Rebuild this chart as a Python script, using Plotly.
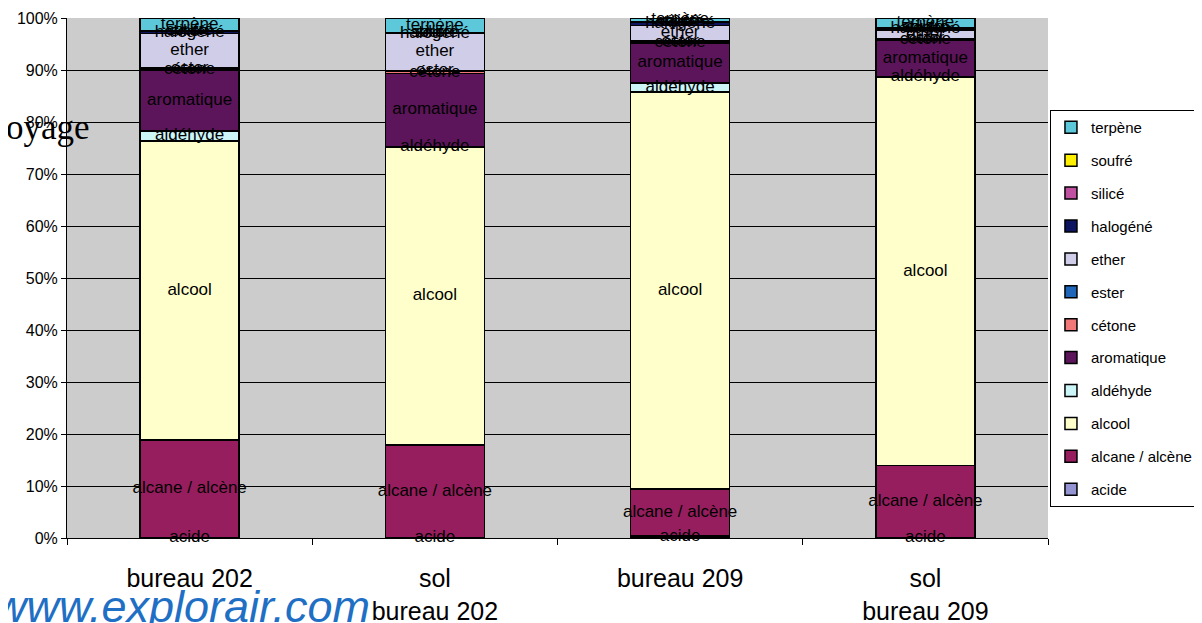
import plotly.graph_objects as go

categories = ["bureau 202", "sol<br>bureau 202", "bureau 209", "sol<br>bureau 209"]

series_names = ["acide", "alcane / alcène", "alcool", "aldéhyde", "aromatique", "cétone",
                "ester", "ether", "halogéné", "silicé", "soufré", "terpène"]

acide = [0.05, 0.05, 0.4, 0.05]
alcane = [18.8, 17.9, 9.0, 14.0]
alcool = [57.5, 57.7, 75.9, 75.0]
aldehyde = [1.9, 0.1, 1.8, 0.1]
aromatique = [11.7, 14.1, 7.6, 7.1]
cetone = [0.1, 0.4, 0.3, 0.2]
ester = [0.3, 0.1, 0.1, 0.1]
ether = [6.65, 7.2, 3.0, 1.7]
halogene = [0.4, 0.1, 0.6, 0.3]
silice = [0.05, 0.05, 0.05, 0.05]
soufre = [0.05, 0.05, 0.05, 0.05]
terpene = [2.5, 2.8, 0.7, 1.9]

values = [acide, alcane, alcool, aldehyde, aromatique, cetone, ester, ether,
          halogene, silice, soufre, terpene]

colors = ["#9494D2", "#961E5E", "#FFFFCC", "#CCF5F8", "#5C155A", "#F07878",
          "#1F66B8", "#CFCDE8", "#0D1560", "#C050A0", "#FFF000", "#5CC8DA"]

FONT = "Liberation Sans, Arial, sans-serif"

fig = go.Figure()

for i, (name, vals, col) in enumerate(zip(series_names, values, colors)):
    fig.add_trace(go.Bar(
        x=categories, y=vals, name=name, legendgroup=name, legendrank=1000 - i,
        marker=dict(color=col, line=dict(color="black", width=1.5)),
        hoverinfo="name+y",
    ))

# label positions: middle of each normalized segment
totals = [sum(v[i] for v in values) for i in range(len(categories))]
bottoms = [0.0] * len(categories)
for name, vals in zip(series_names, values):
    mids = []
    for i in range(len(categories)):
        mids.append((bottoms[i] + vals[i] / 2) / totals[i] * 100)
        bottoms[i] += vals[i]
    fig.add_trace(go.Scatter(
        x=categories, y=mids, mode="text", text=[name] * len(categories),
        textposition="middle center", textfont=dict(family=FONT, size=17, color="black"),
        showlegend=False, hoverinfo="skip", cliponaxis=False,
    ))

fig.update_layout(
    width=1194, height=615,
    margin=dict(l=59, r=154, t=10, b=85, pad=0, autoexpand=False),
    paper_bgcolor="white", plot_bgcolor="#CCCCCC",
    barmode="stack", barnorm="percent", bargap=0.596,
    font=dict(family=FONT, color="black"),
    showlegend=True,
    legend=dict(
        x=1.002, y=0.823, xanchor="left", yanchor="top",
        font=dict(family=FONT, size=15, color="black"),
        bgcolor="white", bordercolor="black", borderwidth=1,
        traceorder="grouped", tracegroupgap=10.4,
    ),
    xaxis=dict(
        type="category", tickson="boundaries", ticks="outside", ticklen=6,
        tickcolor="black", showline=True, linecolor="black", linewidth=1,
        showgrid=False, tickfont=dict(family=FONT, size=25, color="black"),
        ticklabelstandoff=18,
    ),
    yaxis=dict(
        range=[0, 100], dtick=10, ticksuffix="%", ticks="outside", ticklen=5,
        tickcolor="black", showline=True, linecolor="black", linewidth=1,
        showgrid=True, gridcolor="black", gridwidth=1, zeroline=False,
        tickfont=dict(family=FONT, size=16, color="black"),
    ),
    annotations=[
        dict(text="oyage", xref="paper", yref="paper", x=0.0250, y=0.790,
             xanchor="right", yanchor="middle", showarrow=False,
             font=dict(family="Liberation Serif, Times New Roman, serif", size=35, color="black")),
        dict(text="<i>www.explorair.com</i>", xref="paper", yref="paper", x=0.3109, y=-0.131,
             xanchor="right", yanchor="middle", showarrow=False,
             font=dict(family=FONT, size=45, color="#1F6FC5")),
    ],
)

fig.write_html("out.html")
